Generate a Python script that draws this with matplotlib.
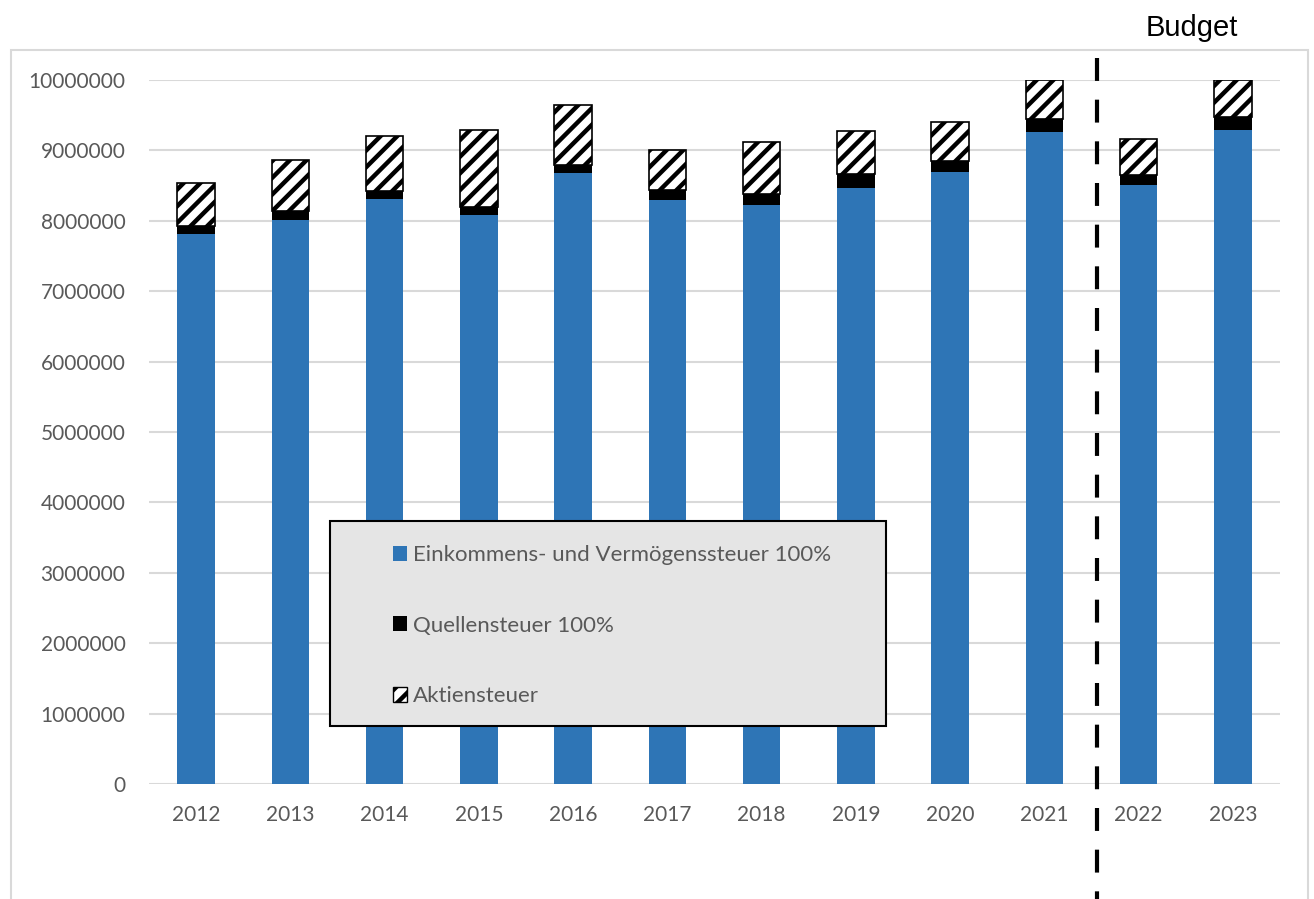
import numpy as np
import matplotlib
matplotlib.use('Agg')
import matplotlib.pyplot as plt
from matplotlib.patches import Patch, Rectangle

# values (CHF)
years = ['2012', '2013', '2014', '2015', '2016', '2017', '2018', '2019', '2020', '2021', '2022', '2023']
einkommen = [7810000, 8010000, 8310000, 8080000, 8680000, 8300000, 8220000, 8470000, 8700000, 9260000, 8510000, 9290000]
quellen = [120000, 130000, 120000, 120000, 110000, 140000, 160000, 190000, 150000, 180000, 140000, 180000]
aktien = [610000, 730000, 770000, 1090000, 850000, 570000, 740000, 620000, 550000, 560000, 510000, 530000]
labels = ['Einkommens- und Vermögenssteuer 100%', 'Quellensteuer 100%', 'Aktiensteuer']
yticks = np.arange(0, 10000001, 1000000)

W, H = 1314, 899
plt.rcParams['font.family'] = ['Lato', 'DejaVu Sans']
plt.rcParams['hatch.linewidth'] = 3.2

fig = plt.figure(figsize=(W / 100, H / 100), dpi=100)
fig.patch.set_facecolor('white')

# outer chart frame (bottom edge runs off the picture)
fig.add_artist(Rectangle((11 / W, -0.02), (1308 - 11) / W, (H - 50) / H + 0.02,
                         transform=fig.transFigure, fill=False, edgecolor='#d9d9d9', lw=1.5, zorder=0))

ax = fig.add_axes([149 / W, (H - 784) / H, (1280 - 149) / W, (784 - 80) / H])
ax.set_facecolor('none')

x = np.arange(len(years))
bw = 0.4
blue = '#2e75b6'
ax.bar(x, einkommen, bw, color=blue, zorder=2)
bottom2 = np.array(einkommen)
ax.bar(x, quellen, bw, bottom=bottom2, color='black', zorder=2)
bottom3 = bottom2 + np.array(quellen)
ax.bar(x, aktien, bw, bottom=bottom3, facecolor='white', edgecolor='black', hatch='//', lw=1.2, zorder=2)

ax.set_xlim(-0.5, len(years) - 0.5)
ax.set_ylim(0, 10000000)
ax.set_yticks(yticks)
ax.set_yticklabels([str(v) for v in yticks])
ax.set_xticks(x)
ax.set_xticklabels(years)
ax.tick_params(length=0, labelsize=15, colors='#595959')
ax.tick_params(axis='x', pad=15)
ax.tick_params(axis='y', pad=17)
ax.yaxis.grid(True, color='#d9d9d9', lw=1.5, zorder=0)
ax.set_axisbelow(True)
for s in ax.spines.values():
    s.set_visible(False)

# dashed separator between actuals and budget
ax.plot([9.56, 9.56], [10312500, -1800000], color='black', lw=3, dashes=(5.5, 4.5),
        clip_on=False, zorder=3)

fig.text(1192 / W, (H - 36) / H, 'Budget', ha='center', va='baseline',
         fontsize=21, family='Liberation Sans', color='black')

# legend box over the bars
fig.add_artist(Rectangle((330 / W, (H - 726) / H), (886 - 330) / W, (726 - 521) / H,
                         transform=fig.transFigure, facecolor='#e5e5e5', edgecolor='black', lw=1.5, zorder=4))
handles = [Patch(facecolor=blue, edgecolor='none'),
           Patch(facecolor='black', edgecolor='none'),
           Patch(facecolor='white', edgecolor='black', hatch='//', lw=1)]
leg = fig.legend(handles, labels, loc='upper left', bbox_to_anchor=(393 / W, (H - 545) / H),
                 frameon=False, fontsize=16, handlelength=0.65, handleheight=0.65,
                 handletextpad=0.25, labelspacing=2.28, borderpad=0, borderaxespad=0)
leg.set_zorder(5)
for t in leg.get_texts():
    t.set_color('#595959')

fig.savefig('out.png', dpi=100)
